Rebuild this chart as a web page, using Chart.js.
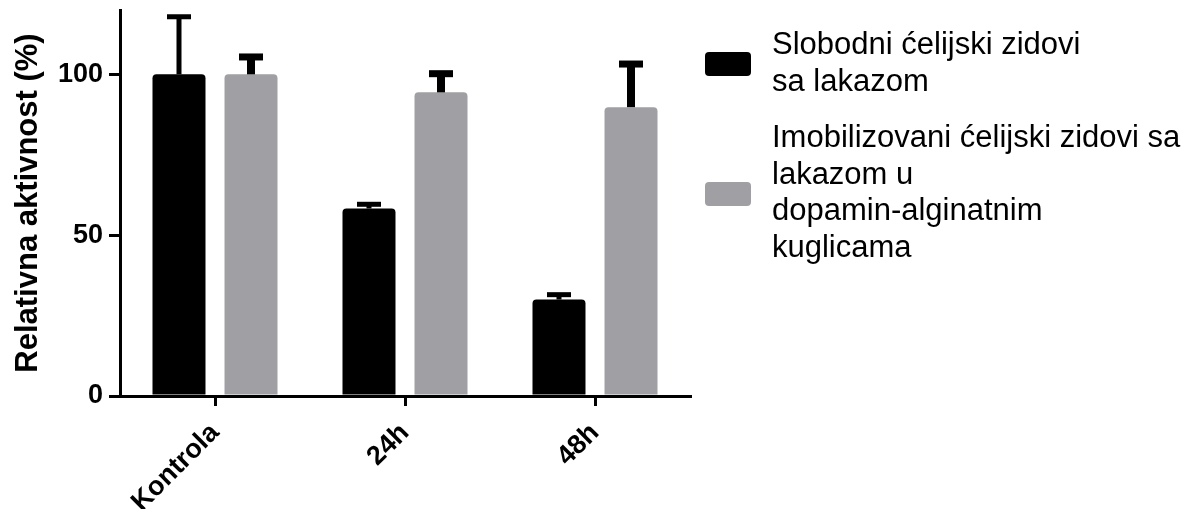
<!DOCTYPE html>
<html>
<head>
<meta charset="utf-8">
<script src="https://cdn.jsdelivr.net/npm/chart.js@4/dist/chart.umd.min.js"></script>
<style>
  html, body { margin: 0; padding: 0; background: #fff; }
  #wrap { position: relative; width: 1187px; height: 509px; overflow: hidden; }
  #chart { position: absolute; left: 0; top: 0; }
  .key { position: absolute; left: 705px; width: 46px; height: 24px; border-radius: 4px; }
  .lbl { position: absolute; left: 772px; font-family: "Liberation Sans", Arial, sans-serif;
         font-size: 31px; color: #000; white-space: nowrap; }
</style>
</head>
<body>
<div id="wrap">
  <canvas id="chart" width="1187" height="509"></canvas>
  <div class="key" id="key1" style="top:52px;"></div>
  <div class="lbl" id="lbl1" style="top:25px; line-height:37px;"></div>
  <div class="key" id="key2" style="top:182px;"></div>
  <div class="lbl" id="lbl2" style="top:119px; line-height:36.5px;"></div>
</div>
<script>
// Categories and series (relative activity, %)
const categories = ['Kontrola', '24h', '48h'];
const freeWalls = [100, 58.3, 30.0];
const freeWallsErr = [17.9, 1.3, 1.5];
const beadWalls = [100, 94.4, 89.8];
const beadWallsErr = [5.4, 5.8, 13.4];
const yTicks = [0, 50, 100];

const seriesNames = [
  ['Slobodni ćelijski zidovi', 'sa lakazom'],
  ['Imobilizovani ćelijski zidovi sa', 'lakazom u', 'dopamin-alginatnim', 'kuglicama']
];
const colors = ['#000000', '#a0a0a4'];

// HTML legend
document.getElementById('key1').style.background = colors[0];
document.getElementById('key2').style.background = colors[1];
document.getElementById('lbl1').innerHTML = seriesNames[0].join('<br>');
document.getElementById('lbl2').innerHTML = seriesNames[1].join('<br>');

const FONT = '"Liberation Sans", Arial, sans-serif';

// Upward SD whiskers drawn from each bar top
const errorBars = {
  id: 'errorBars',
  afterDatasetsDraw(chart) {
    const ctx = chart.ctx;
    const y = chart.scales.y;
    chart.data.datasets.forEach((ds, i) => {
      const meta = chart.getDatasetMeta(i);
      meta.data.forEach((bar, j) => {
        const top = y.getPixelForValue(ds.data[j] + ds.errors[j]);
        ctx.save();
        ctx.fillStyle = '#000';
        const sw = ds.stemWidth, ch = ds.capThickness, cw = 24;
        ctx.fillRect(bar.x - sw / 2, top, sw, bar.y - top);
        ctx.fillRect(bar.x - cw / 2, top - ch / 2, cw, ch);
        ctx.restore();
      });
    });
  }
};

new Chart(document.getElementById('chart'), {
  type: 'bar',
  data: {
    labels: categories,
    datasets: [
      { label: seriesNames[0].join(' '), data: freeWalls, errors: freeWallsErr,
        backgroundColor: colors[0], stemWidth: 5, capThickness: 5,
        borderRadius: { topLeft: 4, topRight: 4, bottomLeft: 0, bottomRight: 0 } },
      { label: seriesNames[1].join(' '), data: beadWalls, errors: beadWallsErr,
        backgroundColor: colors[1], stemWidth: 8, capThickness: 7,
        borderRadius: { topLeft: 4, topRight: 4, bottomLeft: 0, bottomRight: 0 } }
    ]
  },
  options: {
    responsive: false,
    animation: false,
    datasets: { bar: { categoryPercentage: 0.758, barPercentage: 0.736 } },
    layout: { padding: { top: 10, right: 497, left: 0, bottom: 0 } },
    plugins: { legend: { display: false }, tooltip: { enabled: false } },
    scales: {
      x: {
        offset: true,
        grid: { display: true, offset: false, drawOnChartArea: false, drawTicks: true,
                tickLength: 10, lineWidth: 3, color: '#000' },
        border: { display: true, width: 3, color: '#000' },
        ticks: { color: '#000', minRotation: 45, maxRotation: 45, padding: 11,
                 font: { family: FONT, size: 27, weight: 'bold' } },
        afterFit(s) { s.height = 113; s.paddingLeft = 0; s.paddingRight = 0; }
      },
      y: {
        min: 0, max: 120,
        afterBuildTicks(s) { s.ticks = yTicks.map(v => ({ value: v })); },
        grid: { display: true, drawOnChartArea: false, drawTicks: true,
                tickLength: 11, lineWidth: 3, color: '#000' },
        border: { display: true, width: 3, color: '#000' },
        ticks: { color: '#000', padding: 6,
                 font: { family: FONT, size: 27, weight: 'bold' } },
        title: { display: true, text: 'Relativna aktivnost (%)', color: '#000',
                 padding: { top: 10, bottom: 0 },
                 font: { family: FONT, size: 31, weight: 'bold' } },
        afterFit(s) { s.width = 120; s.paddingTop = 0; s.paddingBottom = 0; }
      }
    }
  },
  plugins: [errorBars]
});
</script>
</body>
</html>
